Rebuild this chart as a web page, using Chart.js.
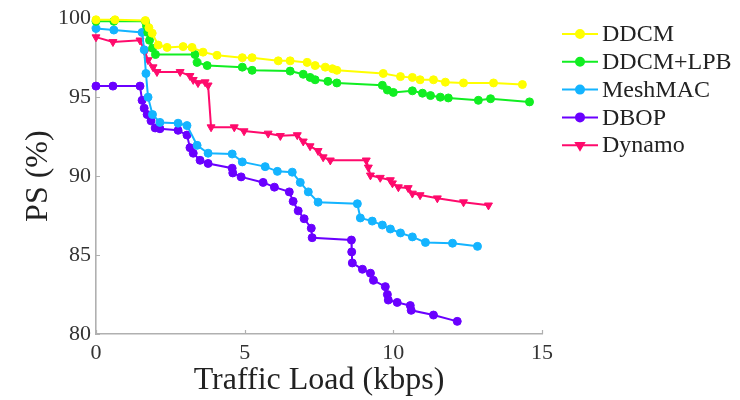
<!DOCTYPE html>
<html>
<head>
<meta charset="utf-8">
<script src="https://cdn.jsdelivr.net/npm/chart.js@4.4.1/dist/chart.umd.min.js"></script>
<style>
  html, body { margin: 0; padding: 0; background: #ffffff; }
  #wrap { width: 740px; height: 400px; }
</style>
</head>
<body>
<div id="wrap"><canvas id="c" width="740" height="400"></canvas></div>
<script>
// Packet success (PS, %) versus traffic load (kbps) for five MAC schemes
const seriesNames = ['DDCM', 'DDCM+LPB', 'MeshMAC', 'DBOP', 'Dynamo'];

const ddcmLoad = [0, 0.64, 1.66, 1.78, 1.89, 2.09, 2.39, 2.93, 3.23, 3.6, 4.07, 4.92, 5.25, 6.13, 6.53, 7.1, 7.37, 7.71, 7.95, 8.1, 9.66, 10.24, 10.64, 10.9, 11.35, 11.75, 12.36, 13.37, 14.34];
const ddcmPS   = [99.9, 99.9, 99.85, 99.4, 99.05, 98.3, 98.15, 98.2, 98.15, 97.85, 97.65, 97.5, 97.5, 97.3, 97.3, 97.2, 97.0, 96.9, 96.8, 96.7, 96.5, 96.3, 96.25, 96.1, 96.1, 95.95, 95.9, 95.9, 95.8];

const lpbLoad = [0, 0.6, 1.66, 1.7, 1.74, 1.8, 1.9, 2.0, 3.33, 3.4, 3.74, 4.92, 5.25, 6.53, 6.97, 7.2, 7.37, 7.8, 8.1, 9.63, 9.8, 10.0, 10.64, 10.98, 11.25, 11.58, 11.85, 12.86, 13.27, 14.58];
const lpbPS   = [99.8, 99.8, 99.8, 99.5, 99.1, 98.6, 98.1, 97.7, 97.7, 97.2, 97.0, 96.9, 96.7, 96.65, 96.45, 96.25, 96.1, 96.0, 95.9, 95.75, 95.45, 95.3, 95.4, 95.25, 95.1, 95.0, 94.95, 94.8, 94.9, 94.7];

const meshLoad = [0, 0.6, 1.55, 1.62, 1.68, 1.75, 1.9, 2.15, 2.76, 3.06, 3.4, 3.77, 4.58, 4.92, 5.69, 6.1, 6.6, 6.87, 7.14, 7.47, 8.79, 8.89, 9.29, 9.63, 9.9, 10.24, 10.64, 11.08, 11.99, 12.83];
const meshPS   = [99.35, 99.25, 99.1, 98.0, 96.5, 95.0, 93.9, 93.4, 93.35, 93.2, 91.95, 91.45, 91.4, 90.9, 90.6, 90.3, 90.25, 89.6, 89.0, 88.35, 88.25, 87.35, 87.15, 86.9, 86.65, 86.4, 86.15, 85.8, 85.75, 85.55];

const dbopLoad = [0, 0.57, 1.48, 1.55, 1.62, 1.72, 1.85, 1.99, 2.15, 2.76, 3.06, 3.16, 3.27, 3.5, 3.77, 4.58, 4.6, 4.88, 5.62, 6.0, 6.5, 6.63, 6.8, 7.0, 7.24, 7.27, 8.59, 8.6, 8.62, 8.96, 9.23, 9.33, 9.73, 9.8, 9.83, 10.13, 10.57, 10.6, 11.35, 12.15];
const dbopPS   = [95.7, 95.7, 95.7, 94.8, 94.3, 93.9, 93.5, 93.05, 93.0, 92.9, 92.6, 91.8, 91.45, 91.0, 90.8, 90.5, 90.2, 89.95, 89.6, 89.3, 89.0, 88.4, 87.8, 87.3, 86.7, 86.1, 85.95, 85.2, 84.5, 84.1, 83.85, 83.4, 83.0, 82.5, 82.15, 82.0, 81.8, 81.5, 81.2, 80.8];

const dynamoLoad = [0, 0.57, 1.48, 1.65, 1.75, 1.92, 2.05, 2.83, 3.16, 3.27, 3.43, 3.67, 3.77, 3.87, 4.65, 4.98, 5.79, 6.2, 6.77, 6.97, 7.2, 7.47, 7.64, 7.88, 9.09, 9.16, 9.23, 9.56, 9.9, 9.97, 10.17, 10.5, 10.64, 10.9, 11.48, 12.36, 13.2];
const dynamoPS   = [98.8, 98.5, 98.6, 97.85, 97.35, 96.9, 96.6, 96.6, 96.35, 96.1, 95.9, 95.95, 95.75, 93.1, 93.1, 92.85, 92.7, 92.55, 92.6, 92.2, 91.9, 91.6, 91.2, 91.0, 91.0, 90.55, 90.05, 89.9, 89.75, 89.55, 89.3, 89.25, 88.9, 88.8, 88.6, 88.35, 88.15];

const xTicks = [0, 5, 10, 15];
const yTicks = [80, 85, 90, 95, 100];

const SERIF = "'Liberation Serif', 'Times New Roman', Times, serif";

function toPoints(xs, ys) {
  return xs.map((x, i) => ({ x: x, y: ys[i] }));
}

const styles = [
  { color: '#ffff00', pointStyle: 'circle',   rotation: 0,   radius: 4 },
  { color: '#11ee22', pointStyle: 'circle',   rotation: 0,   radius: 4 },
  { color: '#14b4ff', pointStyle: 'circle',   rotation: 0,   radius: 4 },
  { color: '#6a00ff', pointStyle: 'circle',   rotation: 0,   radius: 4 },
  { color: '#ff0a6c', pointStyle: 'triangle', rotation: 180, radius: 4.6 }
];

const seriesData = [
  toPoints(ddcmLoad, ddcmPS),
  toPoints(lpbLoad, lpbPS),
  toPoints(meshLoad, meshPS),
  toPoints(dbopLoad, dbopPS),
  toPoints(dynamoLoad, dynamoPS)
];

const datasets = seriesNames.map((name, i) => ({
  label: name,
  data: seriesData[i],
  borderColor: styles[i].color,
  backgroundColor: styles[i].color,
  pointBackgroundColor: styles[i].color,
  pointBorderColor: styles[i].color,
  pointStyle: styles[i].pointStyle,
  pointRotation: styles[i].rotation,
  pointRadius: styles[i].radius,
  pointBorderWidth: 1,
  borderWidth: 2,
  tension: 0,
  fill: false,
  clip: false
}));

// Short inward tick marks on both axes
const inwardTicks = {
  id: 'inwardTicks',
  beforeDatasetsDraw(chart) {
    const { ctx, chartArea: a, scales: { x, y } } = chart;
    ctx.save();
    ctx.strokeStyle = '#b0b0b0';
    ctx.lineWidth = 1.2;
    ctx.beginPath();
    x.ticks.forEach(t => {
      const px = Math.round(x.getPixelForValue(t.value)) + 0.5;
      ctx.moveTo(px, a.bottom);
      ctx.lineTo(px, a.bottom - 4);
    });
    y.ticks.forEach(t => {
      const py = Math.round(y.getPixelForValue(t.value)) + 0.5;
      ctx.moveTo(a.left, py);
      ctx.lineTo(a.left + 4, py);
    });
    ctx.stroke();
    ctx.restore();
  }
};

// Legend with a line sample and marker for each series
const lineLegend = {
  id: 'lineLegend',
  afterDraw(chart) {
    const { ctx } = chart;
    const x0 = 562, x1 = 598, textX = 602, top = 34, step = 27.8;
    ctx.save();
    chart.data.datasets.forEach((ds, i) => {
      const yy = top + i * step;
      ctx.strokeStyle = ds.borderColor;
      ctx.lineWidth = 2;
      ctx.beginPath();
      ctx.moveTo(x0, yy);
      ctx.lineTo(x1, yy);
      ctx.stroke();
      ctx.fillStyle = ds.pointBackgroundColor;
      ctx.strokeStyle = ds.pointBorderColor;
      Chart.helpers.drawPoint(ctx, {
        pointStyle: ds.pointStyle,
        rotation: ds.pointRotation,
        radius: ds.pointRadius,
        borderWidth: 1
      }, (x0 + x1) / 2, yy);
      ctx.fillStyle = '#222222';
      ctx.font = '24px ' + SERIF;
      ctx.textBaseline = 'middle';
      ctx.textAlign = 'left';
      ctx.fillText(ds.label, textX, yy + 1);
    });
    ctx.restore();
  }
};

new Chart(document.getElementById('c').getContext('2d'), {
  type: 'line',
  data: { datasets: datasets },
  options: {
    responsive: false,
    animation: false,
    devicePixelRatio: 1,
    layout: { padding: { left: 0, right: 198, top: 18, bottom: 0 } },
    plugins: { legend: { display: false }, tooltip: { enabled: false } },
    scales: {
      x: {
        type: 'linear',
        min: 0,
        max: 15,
        afterFit(scale) { scale.height = 66; },
        afterBuildTicks(scale) { scale.ticks = xTicks.map(v => ({ value: v })); },
        grid: { display: true, color: 'rgba(0,0,0,0)', drawTicks: false },
        border: { display: true, color: '#b0b0b0', width: 1.6 },
        ticks: {
          padding: 6,
          color: '#333333',
          font: { family: SERIF, size: 22 },
          maxRotation: 0
        },
        title: {
          display: true,
          text: 'Traffic Load (kbps)',
          color: '#222222',
          font: { family: SERIF, size: 32, lineHeight: 1.2 },
          padding: { top: 0, bottom: 0 }
        }
      },
      y: {
        type: 'linear',
        min: 80,
        max: 100,
        afterFit(scale) { scale.width = 96; },
        afterBuildTicks(scale) { scale.ticks = yTicks.map(v => ({ value: v })); },
        grid: { display: true, color: 'rgba(0,0,0,0)', drawTicks: false },
        border: { display: true, color: '#b0b0b0', width: 1.6 },
        ticks: {
          padding: 5,
          color: '#333333',
          font: { family: SERIF, size: 22 }
        },
        title: {
          display: true,
          text: 'PS (%)',
          color: '#222222',
          font: { family: SERIF, size: 32, lineHeight: 1.2 },
          padding: { top: 19, bottom: 0 }
        }
      }
    }
  },
  plugins: [inwardTicks, lineLegend]
});
</script>
</body>
</html>
